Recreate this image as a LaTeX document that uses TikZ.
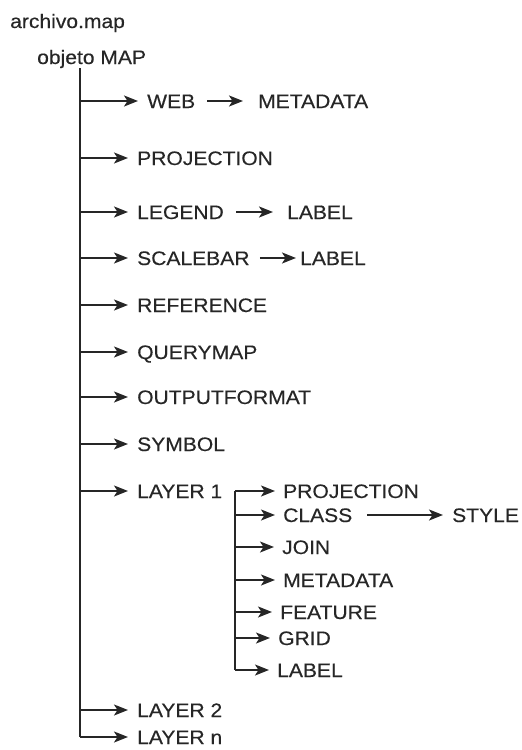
\documentclass[tikz,border=0pt]{standalone}
\usepackage{fontspec}
\setmainfont[FakeStretch=1.08,FakeBold=0.3]{Liberation Sans}
\usetikzlibrary{arrows.meta}
\definecolor{ink}{HTML}{262626}
\tikzset{
  item/.style={anchor=west, inner sep=2pt, text height=14pt, text depth=0pt,
    font=\fontsize{19.5}{22}\selectfont, text=ink},
  arr/.style={-{Stealth[length=14pt,width=11pt,inset=3.5pt]}, line width=1.6pt, draw=ink},
  trunk/.style={line width=1.6pt, draw=ink},
}
\begin{document}
\begin{tikzpicture}[x=1pt,y=-1pt]
\useasboundingbox (0,0) rectangle (522,750);
\node[item] (archivo) at (8,21) {archivo.map};
\node[item] (objeto) at (35,57) {objeto MAP};
% main trunk of the map object
\coordinate (top) at (80,68);
\coordinate (bottom) at (80,737);
\draw[trunk] (top) -- (bottom);
\foreach \name/\j/\x/\y in {web/WEB/145/101, proj/PROJECTION/135/158,
    legend/LEGEND/135/212, scalebar/SCALEBAR/135/258, reference/REFERENCE/135/305,
    querymap/QUERYMAP/135/352, outputformat/OUTPUTFORMAT/135/397,
    symbol/SYMBOL/135/444, layera/LAYER 1/135/491, layerb/LAYER 2/135/710,
    layern/LAYER n/135/737}
  {\node[item] (\name) at (\x,\y) {\j};
   \draw[arr, shorten >=7pt] (top |- \name.west) -- (\name.west);}
% second level
\node[item] (webmeta) at (256,101) {METADATA};
\draw[arr, shorten <=10pt, shorten >=13pt] (web.east) -- (webmeta.west);
\node[item] (legendlabel) at (285,212) {LABEL};
\draw[arr, shorten <=10pt, shorten >=12pt] (legend.east) -- (legendlabel.west);
\node[item] (scalelabel) at (298,258) {LABEL};
\draw[arr, shorten <=8pt, shorten >=2pt] (scalebar.east) -- (scalelabel.west);
% layer sub-tree
\coordinate (subtop) at (235,491);
\coordinate (subbot) at (235,670);
\draw[trunk] (subtop) -- (subbot);
\foreach \name/\j/\x/\y in {lproj/PROJECTION/281/491, lclass/CLASS/281/515,
    ljoin/JOIN/280/547, lmeta/METADATA/281/580, lfeature/FEATURE/278/612,
    lgrid/GRID/276/638, llabel/LABEL/275/670}
  {\node[item] (\name) at (\x,\y) {\j};
   \draw[arr, shorten >=6pt] (subtop |- \name.west) -- (\name.west);}
\node[item] (style) at (450,515) {STYLE};
\draw[arr, shorten <=13pt, shorten >=7pt] (lclass.east) -- (style.west);
\end{tikzpicture}
\end{document}
